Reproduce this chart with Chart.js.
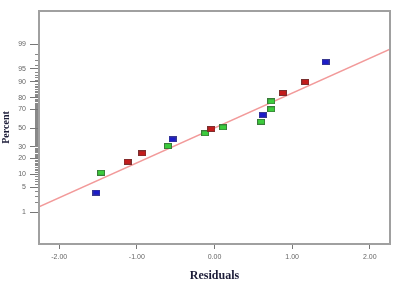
<!DOCTYPE html>
<html>
<head>
<meta charset="utf-8">
<script src="https://cdn.jsdelivr.net/npm/chart.js@4.4.1/dist/chart.umd.min.js"></script>
<style>
  body { margin: 0; background: #fff; }
  #wrap { width: 398px; height: 290px; }
</style>
</head>
<body>
<div id="wrap"><canvas id="probPlot" width="398" height="290"></canvas></div>
<script>
// Normal probability plot of residuals
const residuals = [-1.52, -1.46, -1.12, -0.93, -0.60, -0.54, -0.12, -0.04, 0.11, 0.60, 0.62, 0.73, 0.73, 0.88, 1.17, 1.43];
const percents = [3.7, 10.8, 17.5, 24.2, 30.9, 37.7, 44.2, 48.9, 50.8, 56.9, 64.1, 69.8, 77.0, 83.4, 89.9, 96.6];
const pointGroups = ['blue', 'green', 'red', 'red', 'green', 'blue', 'green', 'red', 'green', 'green', 'blue', 'green', 'green', 'red', 'red', 'blue'];

// reference line end points
const fitResiduals = [-2.26, 2.26];
const fitPercents = [1.46, 98.54];

const percentTicks = [1, 5, 10, 20, 30, 50, 70, 80, 90, 95, 99];
const residualTicks = [-2, -1, 0, 1, 2];

// inverse normal cdf (Acklam)
function probit(p) {
    const a = [-39.69683028665376, 220.9460984245205, -275.9285104469687, 138.3577518672690, -30.66479806614716, 2.506628277459239];
    const b = [-54.47609879822406, 161.5858368580409, -155.6989798598866, 66.80131188771972, -13.28068155288572];
    const c = [-0.007784894002430293, -0.3223964580411365, -2.400758277161838, -2.549732539343734, 4.374664141464968, 2.938163982698783];
    const d = [0.007784695709041462, 0.3224671290700398, 2.445134137142996, 3.754408661907416];
    const pl = 0.02425;
    let q, r;
    if (p < pl) {
        q = Math.sqrt(-2 * Math.log(p));
        return (((((c[0]*q+c[1])*q+c[2])*q+c[3])*q+c[4])*q+c[5]) / ((((d[0]*q+d[1])*q+d[2])*q+d[3])*q+1);
    }
    if (p > 1 - pl) {
        q = Math.sqrt(-2 * Math.log(1 - p));
        return -(((((c[0]*q+c[1])*q+c[2])*q+c[3])*q+c[4])*q+c[5]) / ((((d[0]*q+d[1])*q+d[2])*q+d[3])*q+1);
    }
    q = p - 0.5;
    r = q * q;
    return (((((a[0]*r+a[1])*r+a[2])*r+a[3])*r+a[4])*r+a[5])*q / (((((b[0]*r+b[1])*r+b[2])*r+b[3])*r+b[4])*r+1);
}

const markerColors = {
    blue: ['#1c1cc8', '#3a3a90'],
    red: ['#c41c1c', '#7a3030'],
    green: ['#3ccc3c', '#3a7a3a']
};

// small rectangles used as point markers
function makeMarker(fill, stroke) {
    const c = document.createElement('canvas');
    c.width = 8;
    c.height = 6;
    const g = c.getContext('2d');
    g.fillStyle = stroke;
    g.fillRect(0, 0, 8, 6);
    g.fillStyle = fill;
    g.fillRect(1, 1, 6, 4);
    return c;
}
const markers = {};
Object.keys(markerColors).forEach(k => {
    markers[k] = makeMarker(markerColors[k][0], markerColors[k][1]);
});

const pointData = residuals.map((x, i) => ({ x: x, y: probit(percents[i] / 100) }));
const lineData = fitResiduals.map((x, i) => ({ x: x, y: probit(fitPercents[i] / 100) }));

const frame = {
    id: 'frame',
    afterDraw(chart) {
        const ctx = chart.ctx;
        const a = chart.chartArea;
        const y = chart.scales.y;
        ctx.save();
        // minor ticks every percent
        ctx.strokeStyle = '#888';
        ctx.lineWidth = 1;
        ctx.beginPath();
        for (let p = 1; p <= 99; p++) {
            if (percentTicks.includes(p)) continue;
            const py = Math.round(y.getPixelForValue(probit(p / 100))) + 0.5;
            ctx.moveTo(a.left - 4, py);
            ctx.lineTo(a.left, py);
        }
        ctx.stroke();
        ctx.strokeStyle = '#a0a0a0';
        ctx.lineWidth = 2;
        ctx.strokeRect(a.left, a.top, a.right - a.left, a.bottom - a.top);
        ctx.restore();
    }
};

new Chart(document.getElementById('probPlot'), {
    type: 'scatter',
    data: {
        datasets: [{
            type: 'line',
            data: lineData,
            borderColor: '#f29a9a',
            borderWidth: 1.5,
            pointRadius: 0,
            fill: false,
            order: 2
        }, {
            data: pointData,
            pointStyle: pointGroups.map(g => markers[g]),
            order: 1
        }]
    },
    options: {
        responsive: false,
        animation: false,
        layout: { padding: { top: 11, right: 8, left: 0, bottom: 0 } },
        plugins: {
            legend: { display: false },
            tooltip: { enabled: false }
        },
        scales: {
            x: {
                type: 'linear',
                min: -2.26,
                max: 2.26,
                afterBuildTicks: s => { s.ticks = residualTicks.map(v => ({ value: v })); },
                afterFit: s => { s.height = 46; },
                border: { display: false },
                grid: { drawOnChartArea: false, tickLength: 5, tickColor: '#777' },
                ticks: {
                    padding: 4,
                    color: '#666',
                    font: { family: 'Arial', size: 7 },
                    callback: v => v.toFixed(2)
                },
                title: {
                    display: true,
                    text: 'Residuals',
                    color: '#1c1c38',
                    font: { family: 'Liberation Serif', size: 12, weight: 'bold' },
                    padding: { top: 0, bottom: 7 }
                }
            },
            y: {
                type: 'linear',
                min: -3.21,
                max: 3.24,
                afterBuildTicks: s => { s.ticks = percentTicks.map(p => ({ value: probit(p / 100) })); },
                afterFit: s => { s.width = 39; },
                border: { display: false },
                grid: { drawOnChartArea: false, tickLength: 9, tickColor: '#777' },
                ticks: {
                    padding: 4,
                    autoSkip: false,
                    color: '#666',
                    font: { family: 'Arial', size: 7 },
                    callback: (v, i) => String(percentTicks[i])
                },
                title: {
                    display: true,
                    text: 'Percent',
                    color: '#1c1c38',
                    font: { family: 'Liberation Serif', size: 10, weight: 'bold' },
                    padding: 0
                }
            }
        }
    },
    plugins: [frame]
});
</script>
</body>
</html>
